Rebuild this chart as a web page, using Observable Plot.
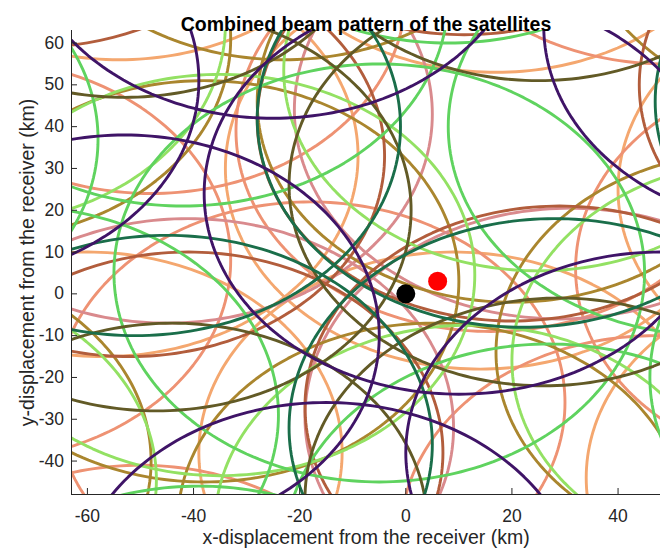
<!DOCTYPE html>
<html>
<head>
<meta charset="utf-8">
<script src="https://cdn.jsdelivr.net/npm/d3@7"></script>
<script src="https://cdn.jsdelivr.net/npm/@observablehq/plot@0.6"></script>
<style>
  body { margin: 0; background: #fff; }
  #chart { width: 667px; height: 554px; }
</style>
</head>
<body>
<div id="chart"></div>
<script>
// Beam centres (km, relative to the receiver), one list per satellite
const purpleBeams = [[-25, 90], [-15, -74], [48, -38], [74, 64], [-87, 51], [10, 24], [-53, -10]];
const darkGreenBeams = [[-51, 40], [22, 42], [-45, -36], [28, -32], [97, 46]];
const oliveBeams = [[-47, 20], [26, 26], [-53, 95], [25, 99], [29, -49], [-44, -55]];
const brownBeams = [[-52, 33], [20, 41.5], [92, 50], [-41, -38], [29, -27], [-70, 107], [11, 110]];
const pinkBeams = [[-45, 43], [29, 44], [-41, -32], [31, -29.5]];
const greenBeams = [[-5, 5], [-42, 71], [58, 40], [-74, -29], [27, -62], [96, -20], [-108, 37], [8, 110], [-39, -96]];
const lightGreenBeams = [[-35, 4.5], [-95, -44.5], [12, -55.5], [25, 53.5], [-82, 64.5], [68, -16]];
const goldenBeams = [[-38, 3], [20, 46], [-96, -40], [5, -55], [-81, 61], [65, -14], [-23, 104], [80, 92]];
const salmonBeams = [[-81, 8], [-48, 72], [-18, -26], [16, 39], [47, -58], [80, 6], [-50, -89], [49, 103]];
const peachBeams = [[14, 30], [88, 25], [-57, 33], [9, -38], [82, -44], [-60, -38], [17, 101], [-54, 104]];

// Footprint radius of each satellite's spot beams (km)
const beamRadii = {
  peach: 48, salmon: 48, pink: 50, golden: 48, brown: 48,
  lightGreen: 48, green: 50, olive: 48, darkGreen: 50, purple: 48
};

// Receiver and target positions (km)
const receiver = [[0, 0]];
const target = [[6, 3]];

// Axis extents and ticks (km)
const xDomain = [-63, 48];
const yDomain = [-48, 63];
const xTicks = [-60, -40, -20, 0, 20, 40];
const yTicks = [-40, -30, -20, -10, 0, 10, 20, 30, 40, 50, 60];

const satellites = [
  {name: "peach", beams: peachBeams},
  {name: "salmon", beams: salmonBeams},
  {name: "pink", beams: pinkBeams},
  {name: "golden", beams: goldenBeams},
  {name: "brown", beams: brownBeams},
  {name: "lightGreen", beams: lightGreenBeams},
  {name: "green", beams: greenBeams},
  {name: "olive", beams: oliveBeams},
  {name: "darkGreen", beams: darkGreenBeams},
  {name: "purple", beams: purpleBeams}
];
const palette = {
  peach: "#f4a76f", salmon: "#ee9273", pink: "#d98a8d", golden: "#aa862e",
  brown: "#b25d3c", lightGreen: "#93e163", green: "#5fd35f", olive: "#625a26",
  darkGreen: "#1a6e4a", purple: "#3f1467"
};

// Outline of each beam footprint, sampled around its circle
const steps = 240;
const outlines = [];
for (const sat of satellites) {
  const r = beamRadii[sat.name];
  sat.beams.forEach(([cx, cy], j) => {
    for (let k = 0; k <= steps; ++k) {
      const t = (2 * Math.PI * k) / steps;
      outlines.push({
        sat: sat.name,
        beam: `${sat.name}-${j}`,
        x: cx + r * Math.cos(t),
        y: cy + r * Math.sin(t)
      });
    }
  });
}

const axisColor = "#262626";
const fmt = (d) => String(d);

const chart = Plot.plot({
  width: 667,
  height: 554,
  marginLeft: 71,
  marginRight: 7,
  marginTop: 30,
  marginBottom: 60,
  style: {fontFamily: "'Liberation Sans', Arial, sans-serif", fontSize: "17.5px", color: axisColor, background: "#fff"},
  x: {domain: xDomain, label: null},
  y: {domain: yDomain, label: null},
  color: {domain: satellites.map((s) => s.name), range: satellites.map((s) => palette[s.name])},
  marks: [
    Plot.line(outlines, {x: "x", y: "y", z: "beam", stroke: "sat", strokeWidth: 2.9, clip: true}),
    Plot.dot(receiver, {x: (d) => d[0], y: (d) => d[1], r: 9.5, fill: "black"}),
    Plot.dot(target, {x: (d) => d[0], y: (d) => d[1], r: 9.5, fill: "red"}),
    Plot.ruleX([xDomain[0]], {stroke: axisColor, strokeWidth: 1}),
    Plot.ruleY([yDomain[0]], {stroke: axisColor, strokeWidth: 1}),
    Plot.tickX(xTicks, {x: (d) => d, insetTop: 458, stroke: axisColor}),
    Plot.tickY(yTicks, {y: (d) => d, insetRight: 583, stroke: axisColor}),
    Plot.axisX(xTicks, {tickSize: 0, tickPadding: 15, tickFormat: fmt, fontSize: 17.5, label: null}),
    Plot.axisY(yTicks, {tickSize: 0, tickPadding: 7.5, tickFormat: fmt, fontSize: 17.5, label: null}),
    Plot.text(["x-displacement from the receiver (km)"], {frameAnchor: "bottom", dy: 49, fontSize: 19.5, fill: axisColor}),
    Plot.text(["y-displacement from the receiver (km)"], {frameAnchor: "left", textAnchor: "middle", rotate: -90, dx: -44, fontSize: 19.5, fill: axisColor}),
    Plot.text(["Combined beam pattern of the satellites"], {frameAnchor: "top", dy: -13, fontSize: 19.5, fontWeight: "bold", fill: "#000"})
  ]
});

document.getElementById("chart").append(chart);
</script>
</body>
</html>
